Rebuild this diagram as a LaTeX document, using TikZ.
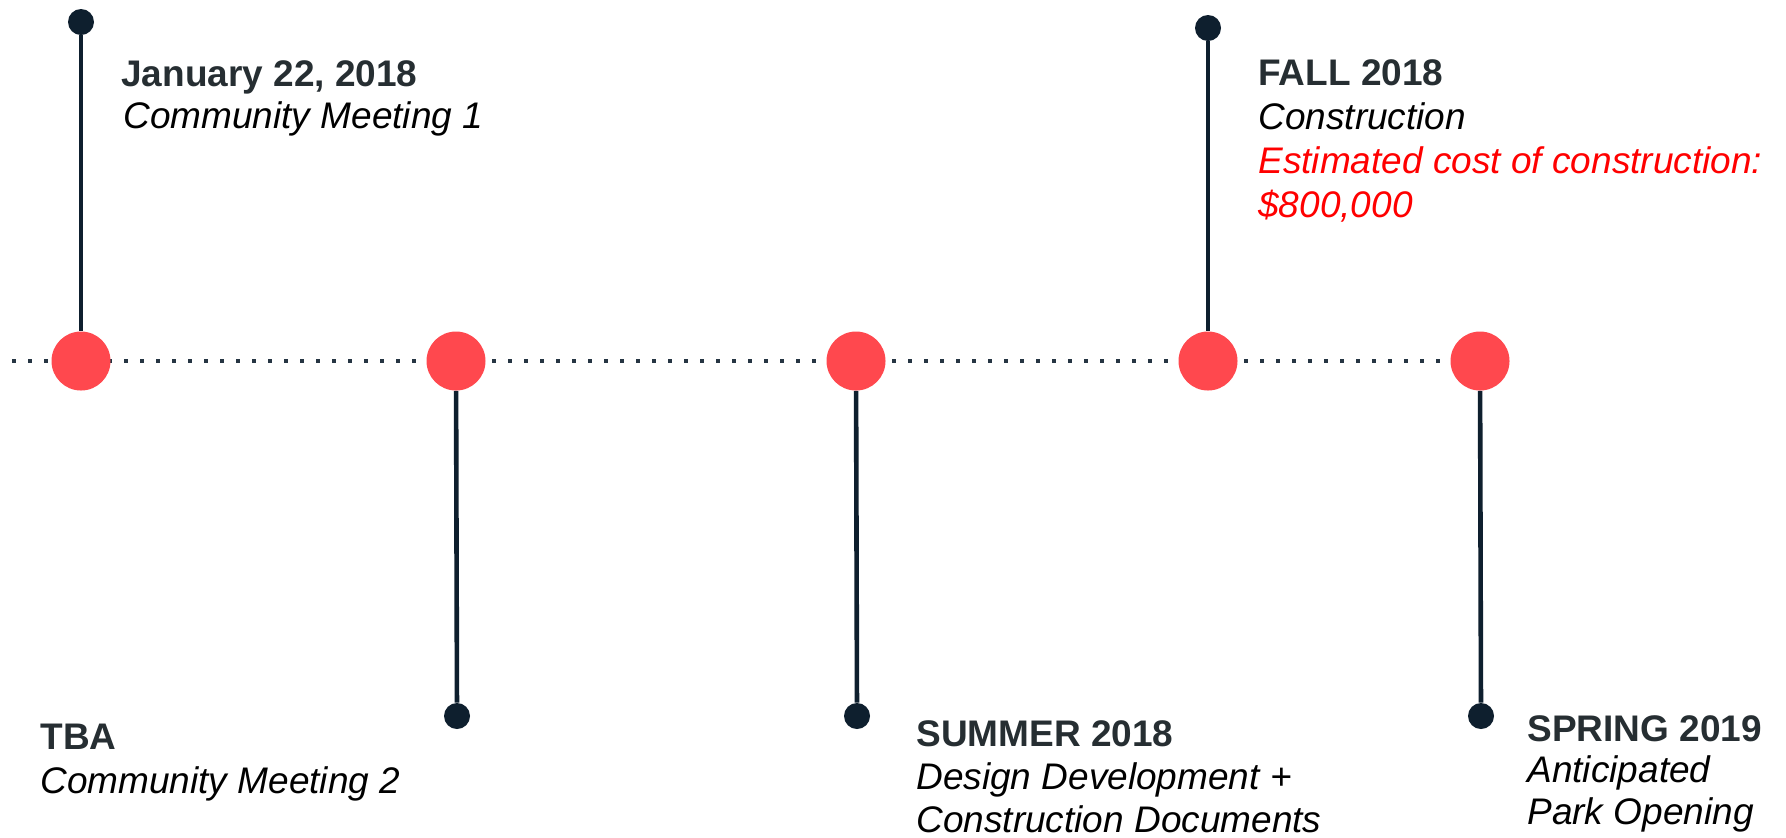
\documentclass[tikz,border=0pt]{standalone}
\usepackage{fontspec}
\setmainfont{Liberation Sans}
\definecolor{dotred}{RGB}{255,72,78}
\definecolor{navy}{RGB}{14,31,46}
\definecolor{datecol}{RGB}{38,46,50}
\definecolor{costred}{RGB}{255,0,0}
\begin{document}
\begin{tikzpicture}[x=0.5pt,y=-0.5pt,
  bigdot/.style={circle,fill=dotred,inner sep=0,minimum size=29.5pt},
  enddot/.style={circle,fill=navy,inner sep=0,minimum size=13pt},
  stem/.style={draw=navy,line width=2.3pt},
  axis/.style={draw=navy!90!white,line width=2pt,dash pattern=on 2pt off 6pt},
  datef/.style={anchor=base west,inner sep=0,text=datecol,font=\fontsize{18.5pt}{22pt}\selectfont\bfseries},
  descf/.style={anchor=base west,inner sep=0,text=black,font=\fontsize{18.5pt}{22pt}\selectfont\itshape},
  costf/.style={descf,text=costred}]
\useasboundingbox (0,0) rectangle (1786,837);
\fill[white] (0,0) rectangle (1786,837);
% dotted timeline
\coordinate (L) at (12,361);
\coordinate (R) at (1442,361);
\draw[axis] (L) -- (R);
% milestone circles
\node[bigdot] (c1) at (81,361) {};
\node[bigdot] (c2) at (456,361) {};
\node[bigdot] (c3) at (856,361) {};
\node[bigdot] (c4) at (1208,361) {};
\node[bigdot] (c5) at (1480,361) {};
% end dots
\node[enddot] (d1) at (81,22) {};
\node[enddot] (d2) at (457,716) {};
\node[enddot] (d3) at (857,716) {};
\node[enddot] (d4) at (1208,28) {};
\node[enddot] (d5) at (1481,716) {};
% stems
\draw[stem] (d1) -- (c1);
\draw[stem] (c2) -- (d2);
\draw[stem] (c3) -- (d3);
\draw[stem] (d4) -- (c4);
\draw[stem] (c5) -- (d5);
% labels
\node[datef] (t1a) at (121,86) {January 22, 2018};
\node[descf] (t1b) at (123,128) {Community Meeting 1};
\node[datef] (t4a) at (1258,85) {FALL 2018};
\node[descf] (t4b) at (1258,129) {Construction};
\node[costf] (t4c) at (1258,173) {Estimated cost of construction:};
\node[costf] (t4d) at (1258,217) {\$800,000};
\node[datef] (t2a) at (40,749) {TBA};
\node[descf] (t2b) at (40,793) {Community Meeting 2};
\node[datef] (t3a) at (916,746) {SUMMER 2018};
\node[descf] (t3b) at (916,789) {Design Development +};
\node[descf] (t3c) at (916,832) {Construction Documents};
\node[datef] (t5a) at (1527,741) {SPRING 2019};
\node[descf] (t5b) at (1527,782) {Anticipated};
\node[descf] (t5c) at (1527,824) {Park Opening};
\end{tikzpicture}
\end{document}
